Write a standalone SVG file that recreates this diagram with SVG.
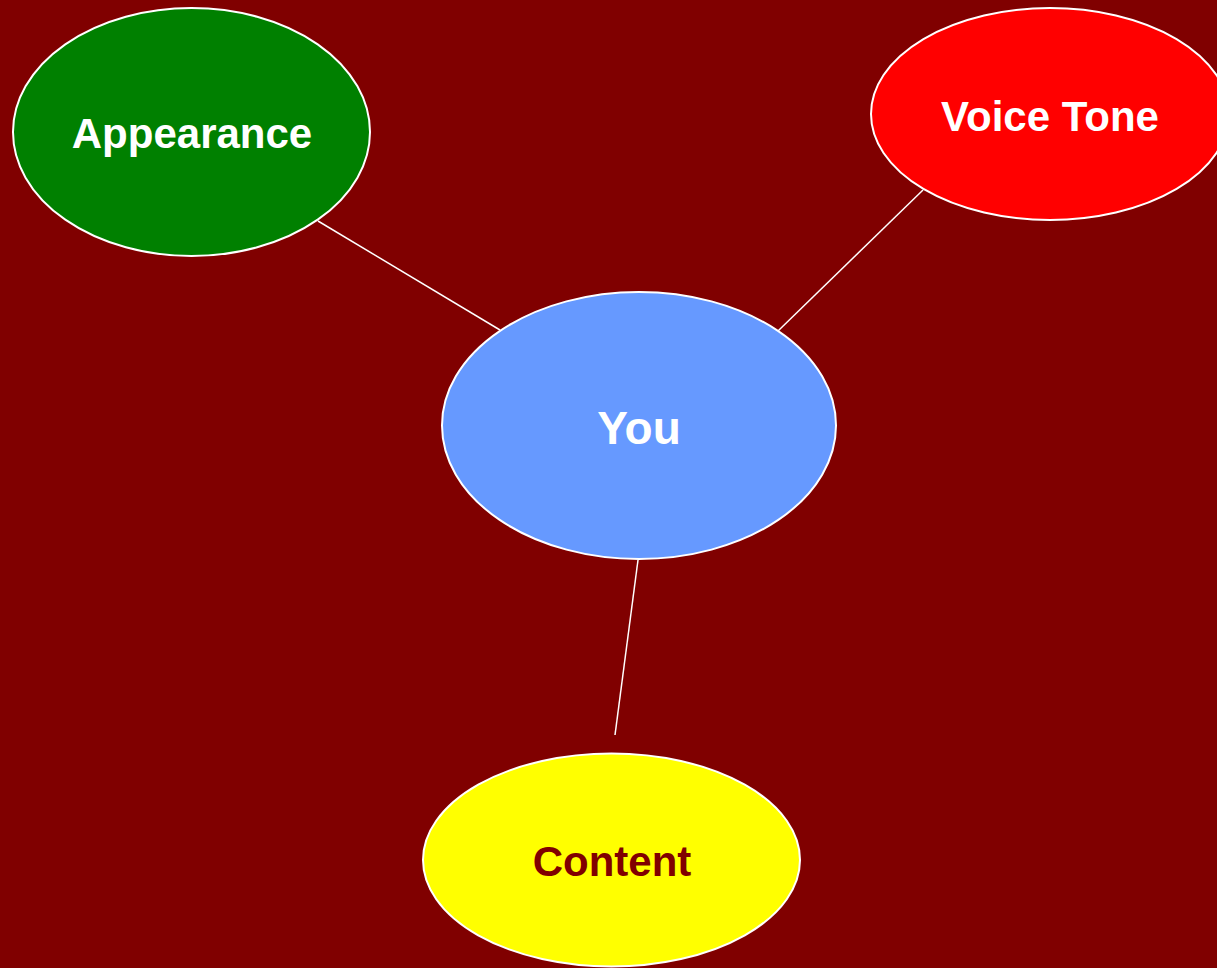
<svg xmlns="http://www.w3.org/2000/svg" width="1217" height="968" viewBox="0 0 1217 968">
<style>
.node ellipse{stroke:#ffffff;stroke-width:2}
.node text{font-family:"Liberation Sans",Arial,sans-serif;font-weight:bold;text-anchor:middle}
.edges line{stroke:#ffffff;stroke-width:1.5}
</style>
<rect x="0" y="0" width="1217" height="968" fill="#800000"/>
<g class="edges">
<line x1="318" y1="221" x2="500" y2="330"/>
<line x1="923" y1="190" x2="778" y2="331"/>
<line x1="638" y1="560" x2="615" y2="735"/>
</g>
<g id="appearance" class="node">
<ellipse cx="191.5" cy="132" rx="178.5" ry="124" fill="#008000"/>
<text x="192" y="148" font-size="42" fill="#ffffff">Appearance</text>
</g>
<g id="voice-tone" class="node">
<ellipse cx="1050" cy="114" rx="179" ry="106" fill="#ff0000"/>
<text x="1050" y="131" font-size="42" fill="#ffffff">Voice Tone</text>
</g>
<g id="you" class="node">
<ellipse cx="639" cy="425.5" rx="197" ry="133.5" fill="#6699ff"/>
<text x="639" y="444" font-size="46" fill="#ffffff">You</text>
</g>
<g id="content" class="node">
<ellipse cx="611.5" cy="860" rx="188.5" ry="106.5" fill="#ffff00"/>
<text x="612" y="876" font-size="42" fill="#800000">Content</text>
</g>
</svg>
